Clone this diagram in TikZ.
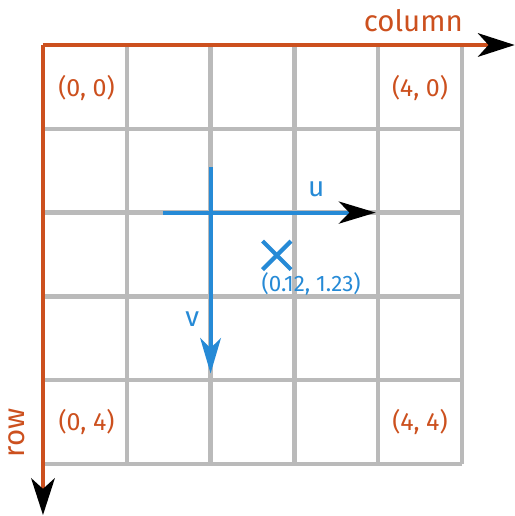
\documentclass[tikz,border=0pt]{standalone}
\usepackage{fontspec}
\setmainfont{Fira Sans}
\usepackage{xcolor}
\definecolor{IdxOrange}{RGB}{204,80,30}
\definecolor{IdxBlue}{RGB}{38,138,214}
\definecolor{IdxGray}{RGB}{186,186,186}
\usepackage{tikz}
\usetikzlibrary{arrows.meta}

\begin{document}
\begin{tikzpicture}[x=1cm, y=-1cm, >=Stealth, font=\fontsize{8.5pt}{10pt}\selectfont]
\tikzstyle{gridln}=[draw=IdxGray, line width=1.45pt]
\tikzstyle{axis}=[draw=IdxOrange, line width=1.4pt, -{Stealth[length=12.5pt, width=8pt, inset=3.6pt, black]}]
\tikzstyle{vec}=[draw=IdxBlue, line width=1.4pt]
\tikzstyle{cellLbl}=[text=IdxOrange, inner sep=0pt]
\tikzstyle{axLbl}=[text=IdxOrange, font=\fontsize{10pt}{12pt}\selectfont, inner sep=0pt]
\tikzstyle{vecLbl}=[text=IdxBlue, inner sep=0pt]

\useasboundingbox (-0.513,-0.537) rectangle (5.632,5.621);

\draw[gridln] (0,0) grid (5,5);

\coordinate (org) at (0,0);
\coordinate (colEnd) at (5.63,0);
\coordinate (rowEnd) at (0,5.61);
\draw[axis] (org) -- (colEnd);
\draw[axis] (org) -- (rowEnd);

\node[axLbl] (colLbl) at (4.42,-0.29) {column};
\node[axLbl, rotate=90] (rowLbl) at (-0.31,4.63) {row};

\node[cellLbl] (c00) at (0.52,0.51) {(0, 0)};
\node[cellLbl] (c40) at (4.5,0.51) {(4, 0)};
\node[cellLbl] (c04) at (0.52,4.5) {(0, 4)};
\node[cellLbl] (c44) at (4.5,4.5) {(4, 4)};

\coordinate (uStart) at (1.43,2);
\coordinate (uEnd) at (3.97,2);
\coordinate (vStart) at (2,1.46);
\coordinate (vEnd) at (2,3.92);
\draw[vec, -{Stealth[length=12.5pt, width=7.5pt, inset=3.6pt, black]}] (uStart) -- (uEnd);
\draw[vec, -{Stealth[length=12pt, width=7pt, inset=3.4pt]}] (vStart) -- (vEnd);
\node[vecLbl, font=\fontsize{9.5pt}{11pt}\selectfont] (uLbl) at (3.26,1.72) {u};
\node[vecLbl, font=\fontsize{9.5pt}{11pt}\selectfont] (vLbl) at (1.78,3.27) {v};

\node[vecLbl, font=\fontsize{7.6pt}{9pt}\selectfont] (ptLbl) at (3.2,2.85) {(0.12, 1.23)};
\coordinate (pt) at (2.79,2.51);
\draw[vec] ([shift={(-0.17,-0.17)}]pt) -- ([shift={(0.17,0.17)}]pt);
\draw[vec] ([shift={(-0.17,0.17)}]pt) -- ([shift={(0.17,-0.17)}]pt);
\end{tikzpicture}
\end{document}
